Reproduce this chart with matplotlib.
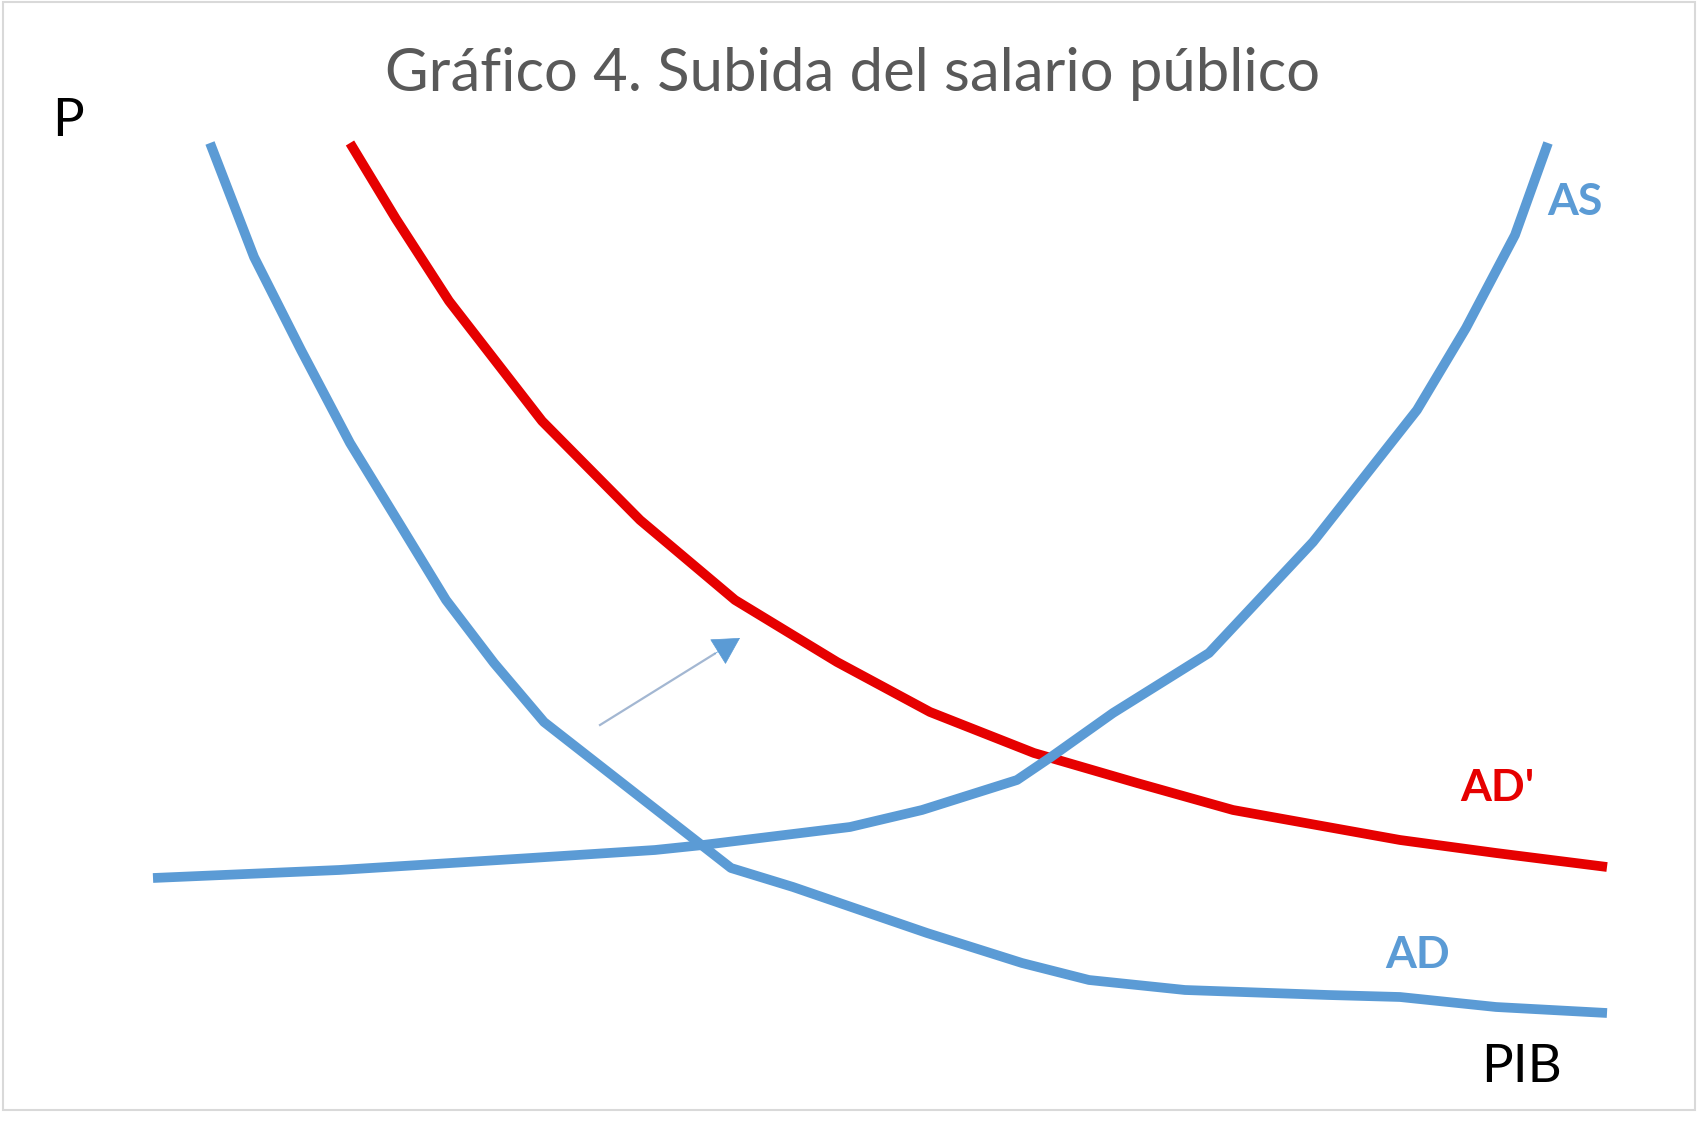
import matplotlib
matplotlib.use("Agg")
import matplotlib.pyplot as plt
from matplotlib.patches import Rectangle

# curve points (PIB on x, P on y, pixel-like units, P up)
ad_x = [210, 254, 301, 350, 399, 446, 494, 544, 640, 731, 793, 860, 927, 1022,
        1089, 1185, 1328, 1400, 1496, 1607]
ad_p = [984, 870, 777, 684, 604, 527, 464, 405, 330, 259, 240, 217, 194, 164,
        147, 137, 132, 130, 120, 114]

ad2_x = [350, 396, 449, 542, 640, 735, 837, 930, 1034, 1137, 1233, 1400, 1496, 1607]
ad2_p = [984, 908, 826, 706, 607, 527, 465, 415, 374, 344, 317, 287, 274, 260]

as_x = [153, 339, 531, 655, 703, 850, 922, 1017, 1051, 1113, 1209, 1313, 1417, 1466, 1515, 1548]
as_p = [249, 257, 269, 277, 282, 300, 317, 347, 370, 414, 474, 585, 717, 799, 892, 984]

# shift arrow (tail -> tip)
arrow_tail = (600, 402)
arrow_tip = (740, 489)

title = "Gráfico 4. Subida del salario público"
blue = "#5b9bd5"
red = "#e60000"

W, H = 1706, 1127
fig = plt.figure(figsize=(W / 100, H / 100), dpi=100)
ax = fig.add_axes([0, 0, 1, 1])
ax.set_xlim(0, W)
ax.set_ylim(0, H)
ax.axis("off")

# light frame round the chart
ax.add_patch(Rectangle((3, H - 1110), 1692, 1108, fill=False, edgecolor="#d9d9d9", lw=1.5))

lw = 7
for xs, ps, c in [(ad_x, ad_p, blue), (ad2_x, ad2_p, red), (as_x, as_p, blue)]:
    ax.plot(xs, ps, color=c, lw=lw, solid_joinstyle="round", solid_capstyle="butt")

# arrow: thin greyish shaft, blue head
f = 0.82
base = (arrow_tail[0] + f * (arrow_tip[0] - arrow_tail[0]),
        arrow_tail[1] + f * (arrow_tip[1] - arrow_tail[1]))
ax.plot([arrow_tail[0], base[0]], [arrow_tail[1], base[1]], color="#a3b7d2", lw=1.6)
ax.annotate("", xy=arrow_tip, xytext=base,
            arrowprops=dict(arrowstyle="-|>,head_length=0.9,head_width=0.5",
                            mutation_scale=20, lw=0.5, fc=blue, ec=blue,
                            shrinkA=0, shrinkB=0))

font = "Lato"
ax.text(853, H - 74, title, ha="center", va="center", fontsize=43,
        color="#595959", family=font)
ax.text(68, H - 122, "P", ha="center", va="center", fontsize=38, color="black", family=font)
ax.text(1522, H - 1067, "PIB", ha="center", va="center", fontsize=38, color="black", family=font)
ax.text(1575, H - 202, "AS", ha="center", va="center", fontsize=32, color=blue,
        family=font, fontweight="bold")
ax.text(1497, H - 788, "AD'", ha="center", va="center", fontsize=32, color=red,
        family=font, fontweight="bold")
ax.text(1418, H - 955, "AD", ha="center", va="center", fontsize=32, color=blue,
        family=font, fontweight="bold")

fig.savefig("out.png", dpi=100, facecolor="white")
